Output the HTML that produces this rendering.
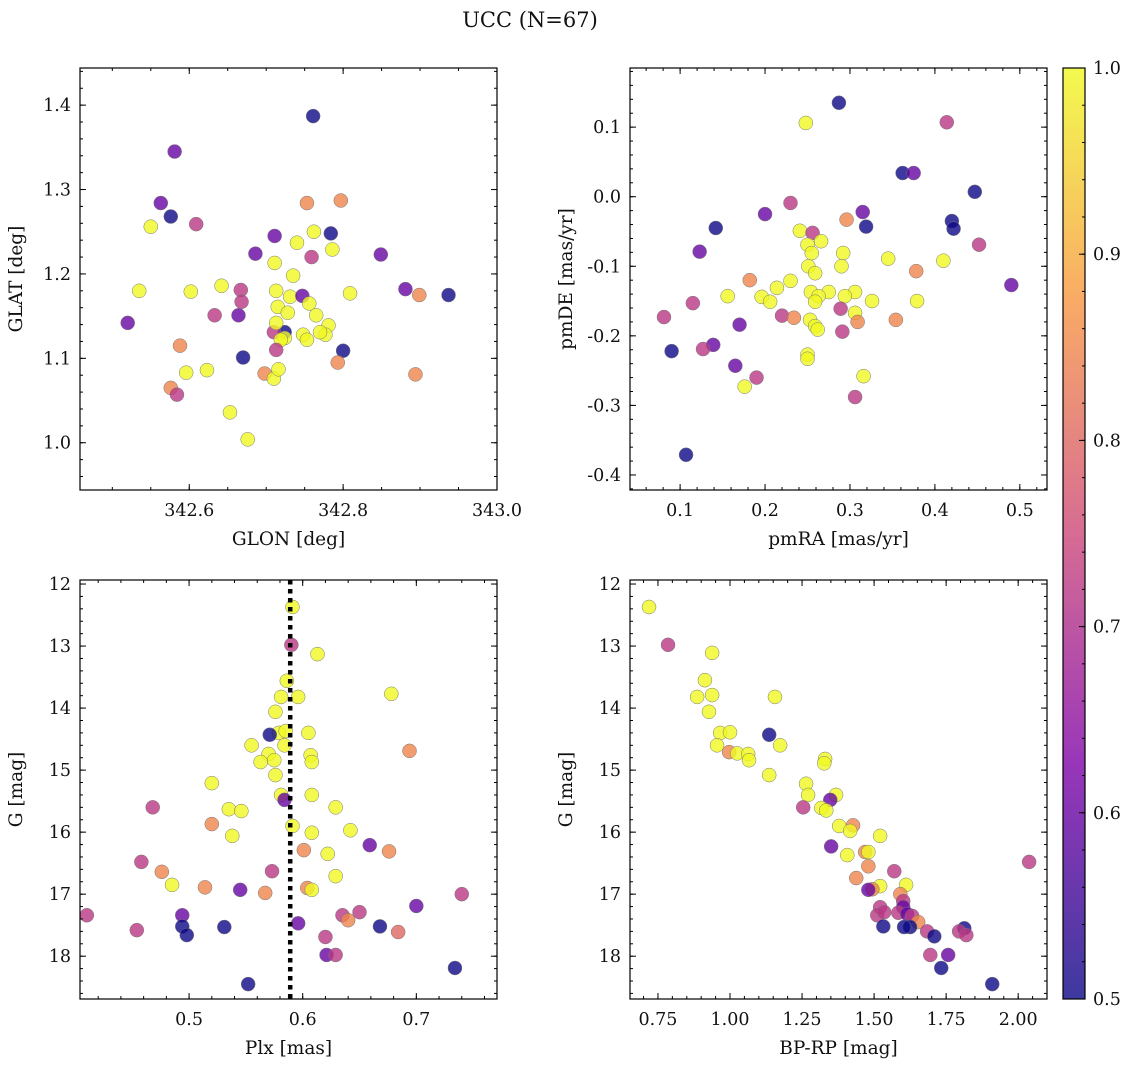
<!DOCTYPE html>
<html><head><meta charset="utf-8"><style>
body{margin:0;background:#fff}
svg text{font-family:"DejaVu Serif","Liberation Serif",serif;fill:#111}
</style></head><body>
<svg id="fig" width="1136" height="1067" xmlns="http://www.w3.org/2000/svg">
<defs><linearGradient id="cbg" x1="0" y1="1" x2="0" y2="0">
<stop offset="0" stop-color="#0d0887"/><stop offset="0.25" stop-color="#7e03a8"/><stop offset="0.5" stop-color="#cc4778"/><stop offset="0.75" stop-color="#f89540"/><stop offset="1" stop-color="#f0f921"/></linearGradient></defs>
<text x="530" y="27" font-size="21" text-anchor="middle">UCC (N=67)</text>
<g id="plots"></g>
</svg>
<script>
// Panel 1: GLON / GLAT
const p1x=[342.761,342.581,342.563,342.576,342.550,342.609,342.753,342.797,342.762,342.784,342.740,342.786,342.849,342.711,342.759,342.686,342.735,342.711,342.535,342.602,342.642,342.667,342.668,342.713,342.731,342.747,342.756,342.809,342.881,342.899,342.937,342.520,342.633,342.664,342.715,342.728,342.765,342.781,342.777,342.770,342.748,342.724,342.710,342.713,342.724,342.719,342.713,342.753,342.800,342.588,342.670,342.596,342.623,342.698,342.710,342.716,342.793,342.894,342.576,342.584,342.653,342.676];
const p1y=[1.387,1.345,1.284,1.268,1.256,1.259,1.284,1.287,1.250,1.248,1.237,1.229,1.223,1.245,1.220,1.224,1.198,1.213,1.180,1.179,1.186,1.181,1.167,1.180,1.173,1.174,1.165,1.177,1.182,1.175,1.175,1.142,1.151,1.151,1.161,1.154,1.151,1.139,1.128,1.131,1.128,1.131,1.131,1.142,1.124,1.122,1.110,1.122,1.109,1.115,1.101,1.083,1.086,1.082,1.076,1.087,1.095,1.081,1.065,1.057,1.036,1.004];
const p1c=[0.5,0.6,0.6,0.5,1,0.72,0.85,0.85,1,0.5,1,1,0.6,0.6,0.72,0.6,1,1,1,1,1,0.72,0.72,1,1,0.6,1,1,0.6,0.85,0.5,0.6,0.72,0.6,1,1,1,1,1,1,1,0.5,0.72,1,1,1,0.72,1,0.5,0.85,0.5,1,1,0.85,1,1,0.85,0.85,0.85,0.72,1,1];
// Panel 2: pmRA / pmDE
const p2x=[0.287,0.248,0.414,0.362,0.375,0.447,0.315,0.296,0.230,0.200,0.420,0.142,0.422,0.319,0.241,0.256,0.266,0.250,0.452,0.123,0.292,0.255,0.410,0.345,0.251,0.290,0.259,0.378,0.230,0.182,0.490,0.214,0.275,0.254,0.306,0.263,0.294,0.196,0.156,0.206,0.379,0.326,0.115,0.259,0.289,0.306,0.220,0.234,0.081,0.253,0.354,0.309,0.259,0.170,0.262,0.291,0.139,0.127,0.090,0.250,0.250,0.165,0.190,0.316,0.176,0.306,0.107];
const p2y=[0.135,0.106,0.107,0.034,0.034,0.007,-0.022,-0.033,-0.009,-0.025,-0.035,-0.045,-0.046,-0.043,-0.049,-0.052,-0.064,-0.069,-0.069,-0.079,-0.081,-0.081,-0.092,-0.089,-0.100,-0.100,-0.110,-0.107,-0.121,-0.120,-0.127,-0.131,-0.137,-0.137,-0.137,-0.143,-0.143,-0.144,-0.143,-0.151,-0.150,-0.150,-0.153,-0.151,-0.161,-0.167,-0.171,-0.174,-0.173,-0.177,-0.177,-0.180,-0.186,-0.184,-0.191,-0.194,-0.213,-0.219,-0.222,-0.227,-0.233,-0.243,-0.260,-0.258,-0.273,-0.288,-0.371];
const p2c=[0.5,1,0.72,0.5,0.6,0.5,0.6,0.85,0.72,0.6,0.5,0.5,0.5,0.5,1,0.72,1,1,0.72,0.6,1,1,1,1,1,1,1,0.85,1,0.85,0.6,1,1,1,1,1,1,1,1,1,1,1,0.72,1,0.72,1,0.72,0.85,0.72,1,0.85,0.85,1,0.6,1,0.72,0.6,0.72,0.5,1,1,0.6,0.72,1,1,0.72,0.5];
// Panel 3: Plx / G
const p3x=[0.591,0.590,0.613,0.586,0.678,0.581,0.596,0.576,0.579,0.571,0.585,0.605,0.584,0.555,0.694,0.570,0.575,0.607,0.608,0.563,0.576,0.520,0.581,0.584,0.608,0.629,0.535,0.546,0.468,0.520,0.591,0.642,0.608,0.538,0.601,0.622,0.676,0.659,0.458,0.476,0.573,0.485,0.514,0.545,0.604,0.608,0.567,0.629,0.740,0.700,0.650,0.635,0.640,0.494,0.410,0.494,0.531,0.596,0.668,0.684,0.454,0.498,0.620,0.621,0.629,0.734,0.552];
const p3y=[12.37,12.98,13.13,13.56,13.77,13.82,13.82,14.06,14.40,14.43,14.37,14.40,14.60,14.60,14.69,14.74,14.84,14.76,14.87,14.87,15.08,15.21,15.40,15.48,15.40,15.60,15.63,15.66,15.60,15.87,15.90,15.97,16.01,16.06,16.29,16.35,16.31,16.21,16.48,16.64,16.63,16.85,16.89,16.93,16.90,16.93,16.98,16.71,17.00,17.19,17.29,17.34,17.42,17.34,17.34,17.52,17.53,17.47,17.52,17.61,17.58,17.66,17.69,17.98,17.98,18.19,18.45];
const p3c=[1,0.72,1,1,1,1,1,1,1,0.5,1,1,1,1,0.85,1,1,1,1,1,1,1,1,0.6,1,1,1,1,0.72,0.85,1,1,1,1,0.85,1,0.85,0.6,0.72,0.85,0.72,1,0.85,0.6,0.85,1,0.85,1,0.72,0.6,0.72,0.72,0.85,0.6,0.72,0.5,0.5,0.6,0.5,0.8,0.72,0.5,0.72,0.6,0.72,0.5,0.5];
const plxLine=0.589;
// Panel 4: BP-RP / G
const p4x=[0.719,0.785,0.938,0.913,1.156,0.886,0.938,0.927,1.136,0.966,1.000,1.174,0.955,0.997,1.025,1.063,1.066,1.330,1.327,1.136,1.264,1.271,1.368,1.348,1.317,1.254,1.334,1.427,1.379,1.417,1.521,1.407,1.469,1.480,1.351,1.480,1.570,1.438,1.521,1.611,1.494,1.480,2.038,1.591,1.601,1.601,1.521,1.511,1.535,1.584,1.615,1.632,1.653,1.625,1.604,1.532,1.684,1.813,1.795,1.820,1.709,1.695,1.757,1.733,1.910];
const p4y=[12.37,12.98,13.11,13.55,13.82,13.82,13.79,14.06,14.43,14.40,14.39,14.60,14.60,14.71,14.73,14.74,14.84,14.82,14.89,15.08,15.22,15.40,15.40,15.48,15.61,15.60,15.65,15.89,15.90,15.98,16.06,16.37,16.32,16.32,16.23,16.55,16.63,16.74,16.87,16.85,16.92,16.93,16.48,17.00,17.11,17.21,17.21,17.34,17.29,17.30,17.32,17.35,17.45,17.53,17.53,17.52,17.60,17.55,17.60,17.66,17.68,17.98,17.98,18.19,18.45];
const p4c=[1,0.72,1,1,1,1,1,1,0.5,1,1,1,1,0.85,1,1,1,1,1,1,1,1,1,0.6,1,0.72,1,0.85,1,1,1,1,0.85,1,0.6,0.85,0.72,0.85,1,1,0.85,0.6,0.72,0.85,0.72,0.6,0.72,0.72,0.72,0.72,0.6,0.72,0.85,0.5,0.5,0.5,0.72,0.5,0.72,0.72,0.5,0.72,0.6,0.5,0.5];
const ticks1x=[342.6,342.8,343.0], ticks1y=[1.0,1.1,1.2,1.3,1.4];
const ticks2x=[0.1,0.2,0.3,0.4,0.5], ticks2y=[-0.4,-0.3,-0.2,-0.1,0.0,0.1];
const ticks3x=[0.5,0.6,0.7], ticksG=[12,13,14,15,16,17,18];
const ticks4x=[0.75,1.00,1.25,1.50,1.75,2.00];
const cbTicks=[0.5,0.6,0.7,0.8,0.9,1.0];

const NS='http://www.w3.org/2000/svg';
const root=document.getElementById('plots');
function mk(tag,attrs,parent){const e=document.createElementNS(NS,tag);for(const k in attrs)e.setAttribute(k,attrs[k]);(parent||root).appendChild(e);return e;}
const stops=[[13,8,135],[126,3,168],[204,71,120],[248,149,64],[240,249,33]];
function plasma(p){let t=Math.max(0,Math.min(1,(p-0.5)/0.5))*4;let i=Math.min(3,Math.floor(t));let f=t-i;const a=stops[i],b=stops[i+1];return 'rgb('+a.map((v,k)=>Math.round(v+(b[k]-v)*f)).join(',')+')';}
const TICKFS=17.5, LABFS=18.5;

function panel(name,box,xr,yr,xt,yt,nminX,nminY,xlab,ylab,xs,ys,cs,xdec,ydec){
  const [L,T,R,B]=box;
  const g=mk('g',{});
  
  
  const sx=v=>L+(v-xr[0])/(xr[1]-xr[0])*(R-L);
  const sy=v=>B-(v-yr[0])/(yr[1]-yr[0])*(B-T);
  const pts=mk('g',{},g);
  for(let i=0;i<xs.length;i++){
    const c=mk('circle',{cx:sx(xs[i]),cy:sy(ys[i]),r:7,fill:plasma(cs[i]),'fill-opacity':0.8,stroke:'#777','stroke-width':0.5},pts);
    
    
  }
  const tk=mk('g',{stroke:'#000','stroke-width':1},g);
  function xticks(arr,len){for(const v of arr){const x=sx(v);if(x<L-0.5||x>R+0.5)continue;mk('line',{x1:x,y1:B,x2:x,y2:B-len},tk);mk('line',{x1:x,y1:T,x2:x,y2:T+len},tk);}}
  function yticks(arr,len){for(const v of arr){const y=sy(v);if(y<Math.min(T,B)-0.5||y>Math.max(T,B)+0.5)continue;mk('line',{x1:L,y1:y,x2:L+len,y2:y},tk);mk('line',{x1:R,y1:y,x2:R-len,y2:y},tk);}}
  xticks(xt,6);yticks(yt,6);
  const sX=(xt[1]-xt[0])/nminX, sY=(yt[1]-yt[0])/nminY;
  const mx=[],my=[];
  for(let v=xt[0]-10*sX*nminX;v<=xt[xt.length-1]+10*sX*nminX;v+=sX)mx.push(v);
  for(let v=yt[0]-10*sY*nminY;v<=yt[yt.length-1]+10*sY*nminY;v+=sY)my.push(v);
  xticks(mx,3);yticks(my,3);
  mk('rect',{x:L,y:T,width:R-L,height:B-T,fill:'none',stroke:'#000','stroke-width':1.2},g);
  for(const v of xt){const t=mk('text',{x:sx(v),y:B+26,'font-size':TICKFS,'text-anchor':'middle'},g);t.textContent=v.toFixed(xdec);}
  for(const v of yt){const t=mk('text',{x:L-9,y:sy(v)+6,'font-size':TICKFS,'text-anchor':'end'},g);t.textContent=v.toFixed(ydec);}
  const xl=mk('text',{x:(L+R)/2,y:B+55,'font-size':LABFS,'text-anchor':'middle'},g);xl.textContent=xlab;
  
  const yl=mk('text',{x:0,y:0,'font-size':LABFS,'text-anchor':'middle',transform:`translate(${L-58},${(T+B)/2}) rotate(-90)`},g);yl.textContent=ylab;
  
  return {sx,sy,g};
}
panel('glon-glat-panel',[80,68,497,490],[342.458,343.0],[0.944,1.444],ticks1x,ticks1y,4,5,'GLON [deg]','GLAT [deg]',p1x,p1y,p1c,1,1);
panel('pm-panel',[630,68,1047,490],[0.041,0.532],[-0.4216,0.185],ticks2x,ticks2y,5,5,'pmRA [mas/yr]','pmDE [mas/yr]',p2x,p2y,p2c,1,1);
const P3=panel('plx-g-panel',[80,580,497,999],[0.404,0.771],[18.69,11.935],ticks3x,ticksG,5,5,'Plx [mas]','G [mag]',p3x,p3y,p3c,1,0);
const dl=mk('line',{x1:P3.sx(plxLine),y1:580,x2:P3.sx(plxLine),y2:999,stroke:'#000','stroke-width':4.5,'stroke-dasharray':'4.5,4.5'},P3.g);


panel('cmd-panel',[630,580,1047,999],[0.653,2.1],[18.69,11.935],ticks4x,ticksG,5,5,'BP-RP [mag]','G [mag]',p4x,p4y,p4c,2,0);

// colorbar
const cb=mk('g',{});


const cT=68,cB=999,cL=1063,cR=1085;
mk('rect',{x:cL,y:cT,width:cR-cL,height:cB-cT,fill:'url(#cbg)','fill-opacity':0.8},cb);
const cy=v=>cB-(v-0.5)/0.5*(cB-cT);
for(let v=0.5;v<=1.0001;v+=0.02){mk('line',{x1:cR,y1:cy(v),x2:cR-3,y2:cy(v),stroke:'#000'},cb);}
for(const v of cbTicks){mk('line',{x1:cR,y1:cy(v),x2:cR-6,y2:cy(v),stroke:'#000'},cb);const t=mk('text',{x:cR+8,y:cy(v)+6,'font-size':TICKFS},cb);t.textContent=v.toFixed(1);}
mk('rect',{x:cL,y:cT,width:cR-cL,height:cB-cT,fill:'none',stroke:'#000','stroke-width':1.2},cb);
</script>
</body></html>
